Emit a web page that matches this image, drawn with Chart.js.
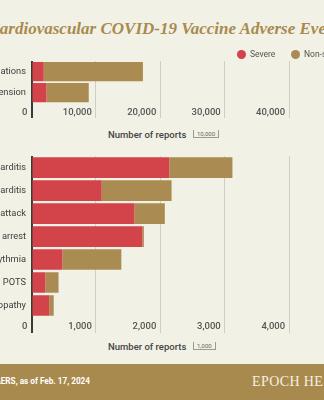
<!DOCTYPE html>
<html>
<head>
<meta charset="utf-8">
<script src="https://cdn.jsdelivr.net/npm/chart.js@4.4.1/dist/chart.umd.min.js"></script>
<style>
  html, body { margin: 0; padding: 0; background: #f2f1e6; }
  #page { position: relative; width: 324px; height: 400px; overflow: hidden; background: #f2f1e6; font-family: Roboto, sans-serif; }
  .title { position: absolute; left: -11.5px; top: 19px; white-space: nowrap; font: italic bold 17px/20px "Liberation Serif", serif; color: #a88a4e; }
  .legend { position: absolute; top: 49px; font-size: 8.5px; line-height: 10px; color: #555; white-space: nowrap; }
  .legend i { position: absolute; top: 0.5px; width: 9px; height: 9px; border-radius: 50%; }
  .chart-box { position: absolute; left: -90px; width: 450px; }
  .axis-title { position: absolute; left: 108px; font-size: 9.5px; font-weight: 500; color: #444; white-space: nowrap; }
  .scale-mark { position: absolute; left: 193px; height: 7px; padding: 0 3px; font-size: 6px; line-height: 7px; color: #666; border: 1px solid #9a9a94; border-top: none; }
  .footer { position: absolute; left: 0; top: 364px; width: 324px; height: 36px; background: #a88a4e; }
  .source { position: absolute; right: 234px; top: 12px; font-size: 8.2px; font-weight: bold; color: #fff; white-space: nowrap; }
  .brand { position: absolute; left: 252px; top: 10px; font: 14px "Liberation Serif", serif; letter-spacing: 0.4px; color: #f6f0e2; white-space: nowrap; }
</style>
</head>
<body>
<div id="page">
  <div class="title">Cardiovascular COVID-19 Vaccine Adverse Events</div>

  <div class="chart-box" style="top:50px;height:75px;"><canvas id="topChart"></canvas></div>
  <div class="chart-box" style="top:145px;height:194px;"><canvas id="bottomChart"></canvas></div>

  <div class="legend" style="left:237px;"><i style="left:0;background:#d2434a;"></i><span style="margin-left:13px;">Severe</span></div>
  <div class="legend" style="left:291px;"><i style="left:0;background:#aa8c52;"></i><span style="margin-left:13px;">Non-severe</span></div>

  <div class="axis-title" style="top:129px;">Number of reports</div>
  <div class="scale-mark" style="top:130px;">10,000</div>
  <div class="axis-title" style="top:341px;">Number of reports</div>
  <div class="scale-mark" style="top:342px;">1,000</div>

  <div class="footer">
    <div class="source">Source: VAERS, as of Feb. 17, 2024</div>
    <div class="brand">EPOCH HEALTH</div>
  </div>
</div>

<script>
// top panel
const topCategories = ['Palpitations', 'Hypertension'];
const topSevere = [1900, 2330];
const topNonSevere = [15400, 6560];
const topTicks = ['0', '10,000', '20,000', '30,000', '40,000', ''];

// bottom panel
const bottomCategories = ['Myocarditis', 'Pericarditis', 'Heart attack', 'Cardiac arrest', 'Arrhythmia', 'POTS', 'Cardiomyopathy'];
const bottomSevere = [2140, 1090, 1600, 1720, 480, 215, 275];
const bottomNonSevere = [980, 1085, 470, 25, 915, 205, 70];
const bottomTicks = ['0', '1,000', '2,000', '3,000', '4,000', ''];

document.addEventListener('DOMContentLoaded', () => {

    const severeRed = '#d2434a';
    const nonSevereGold = '#aa8c52';
    const axisDark = '#3a3a3a';
    const gridColor = '#cfcec4';

    Chart.defaults.font.family = "Roboto, sans-serif";
    Chart.defaults.animation = false;

    function makeChart(id, labels, severe, nonSevere, ticks, opts) {
        const step = opts.max / (ticks.length - 1);
        return new Chart(document.getElementById(id), {
            type: 'bar',
            data: {
                labels: labels,
                datasets: [
                    { label: 'Severe', data: severe, backgroundColor: severeRed },
                    { label: 'Non-severe', data: nonSevere, backgroundColor: nonSevereGold }
                ]
            },
            options: {
                indexAxis: 'y',
                responsive: true,
                maintainAspectRatio: false,
                categoryPercentage: 1,
                barPercentage: opts.barPct,
                layout: { padding: { top: opts.padTop, right: 6.5, left: 0, bottom: 0 } },
                scales: {
                    x: {
                        stacked: true,
                        min: 0,
                        max: opts.max,
                        afterFit: (s) => { s.height = 22; },
                        border: { display: false },
                        grid: {
                            color: (c) => c.index === 0 ? axisDark : gridColor,
                            lineWidth: (c) => c.index === 0 ? 2 : 1,
                            drawTicks: true,
                            tickLength: opts.tickLen
                        },
                        ticks: {
                            stepSize: step,
                            align: 'end',
                            labelOffset: -4,
                            padding: opts.tickPad,
                            color: '#555',
                            font: { size: 9.5, weight: '500', lineHeight: 1.2 },
                            maxRotation: 0,
                            autoSkip: false,
                            callback: (v) => ticks[Math.round(v / step)]
                        }
                    },
                    y: {
                        stacked: true,
                        afterFit: (s) => { s.width = 121.5; },
                        border: { display: false },
                        grid: { display: false, drawTicks: false },
                        ticks: {
                            padding: 5.5,
                            color: '#3d3d3d',
                            font: { size: 9.3, lineHeight: 1.2 }
                        }
                    }
                },
                plugins: {
                    legend: { display: false },
                    tooltip: { enabled: false }
                }
            }
        });
    }

    makeChart('topChart', topCategories, topSevere, topNonSevere, topTicks,
        { max: 50000, barPct: 0.92, padTop: 8, tickLen: 15, tickPad: -11.2 });
    makeChart('bottomChart', bottomCategories, bottomSevere, bottomNonSevere, bottomTicks,
        { max: 5000, barPct: 0.9, padTop: 10.5, tickLen: 16, tickPad: -12.2 });
});
</script>
</body>
</html>
